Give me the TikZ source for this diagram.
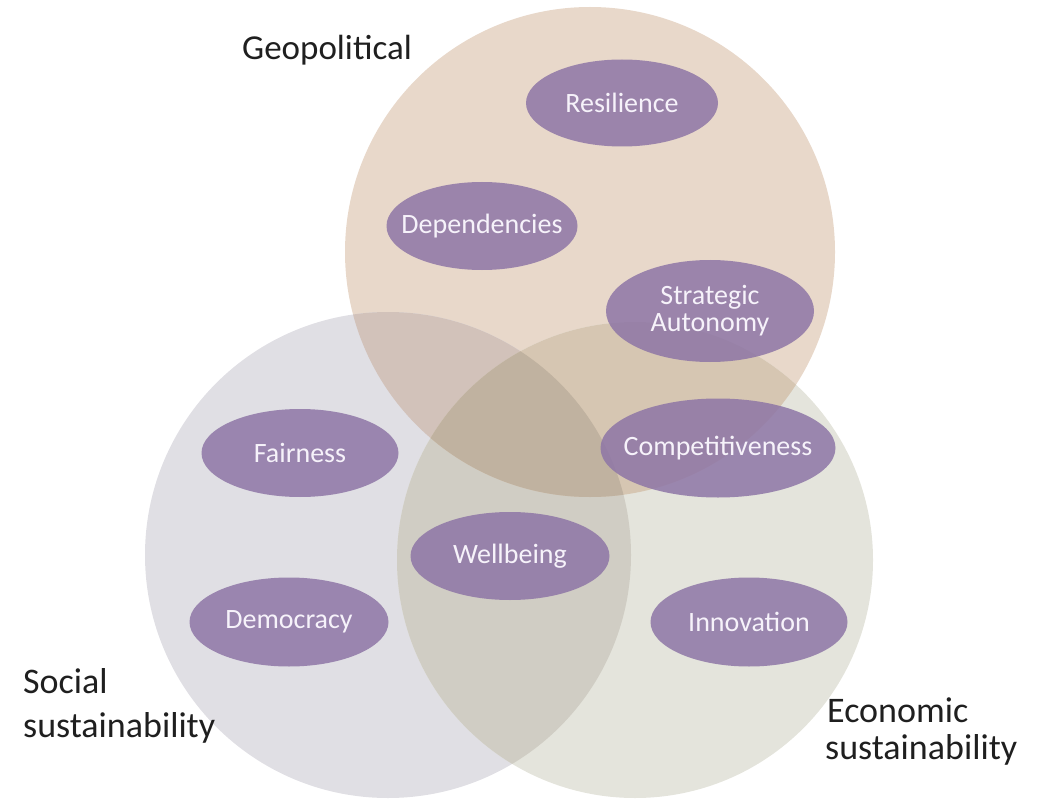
\documentclass[tikz,border=0pt]{standalone}
\usepackage{fontspec}
\setmainfont{Carlito}
\usetikzlibrary{shapes.geometric}
\definecolor{geoC}{HTML}{E8D8CA}
\definecolor{socC}{HTML}{E0DFE4}
\definecolor{ecoC}{HTML}{E4E4DC}
\definecolor{gsC}{HTML}{D2C2BA}
\definecolor{seC}{HTML}{D0CDC4}
\definecolor{geC}{HTML}{D6C6B2}
\definecolor{gseC}{HTML}{C0B2A0}
\definecolor{pillC}{RGB}{142,118,166}
\definecolor{pillT}{RGB}{246,242,250}
\tikzset{
  pill/.style={ellipse, fill=pillC, fill opacity=0.85, draw=none, inner sep=0pt},
  pilltext/.style={text=pillT, font=\fontsize{28}{28}\selectfont, align=center, inner sep=0pt},
  biglabel/.style={text=black!88, font=\fontsize{36}{44}\selectfont, align=left, inner sep=0pt, anchor=base west}
}
\begin{document}
\begin{tikzpicture}[x=1pt,y=-1pt]
\useasboundingbox (0,0) rectangle (1055,805);
% circles
\coordinate (cg) at (590,252);
\coordinate (cs) at (388,555);
\coordinate (ce) at (635,560);
\fill[geoC] (cg) circle[radius=245];
\fill[socC] (cs) circle[radius=243];
\fill[ecoC] (ce) circle[radius=238];
\begin{scope}
  \clip (cs) circle[radius=243];
  \fill[gsC] (cg) circle[radius=245];
  \fill[seC] (ce) circle[radius=238];
\end{scope}
\begin{scope}
  \clip (cg) circle[radius=245];
  \fill[geC] (ce) circle[radius=238];
\end{scope}
\begin{scope}
  \clip (cg) circle[radius=245];
  \clip (cs) circle[radius=243];
  \fill[gseC] (ce) circle[radius=238];
\end{scope}
% labels
\node[biglabel] (geo) at (242,60) {\fontsize{35}{40}\selectfont Geopolitical};
\node[biglabel] (soc) at (23,737) {Social\\sustainability};
\node[biglabel, font=\fontsize{36}{37}\selectfont] (eco) at (827,759) {Economic\\\hspace*{-2pt}sustainability};
% pills
\node[pill, minimum width=192, minimum height=87] (res) at (622,103) {};
\node[pilltext] (res-t) at (res) {Resilience};
\node[pill, minimum width=191, minimum height=88] (dep) at (482,226) {};
\node[pilltext] (dep-t) at (dep) {Dependencies};
\node[pill, minimum width=208, minimum height=102] (sa) at (710,311) {};
\node[pilltext, font=\fontsize{28}{27}\selectfont] (sa-t) at (sa) {Strategic\\Autonomy};
\node[pill, minimum width=235, minimum height=99] (comp) at (718,448) {};
\node[pilltext] (comp-t) at (comp) {Competitiveness};
\node[pill, minimum width=197, minimum height=88] (fair) at (300,453) {};
\node[pilltext] (fair-t) at (fair) {Fairness};
\node[pill, minimum width=199, minimum height=88] (well) at (510,556) {};
\node[pilltext] (well-t) at (well) {Wellbeing};
\node[pill, minimum width=199, minimum height=89] (dem) at (289,622) {};
\node[pilltext] (dem-t) at (dem) {Democracy};
\node[pill, minimum width=197, minimum height=89] (inn) at (749,622) {};
\node[pilltext] (inn-t) at (inn) {Innovation};
\end{tikzpicture}
\end{document}
